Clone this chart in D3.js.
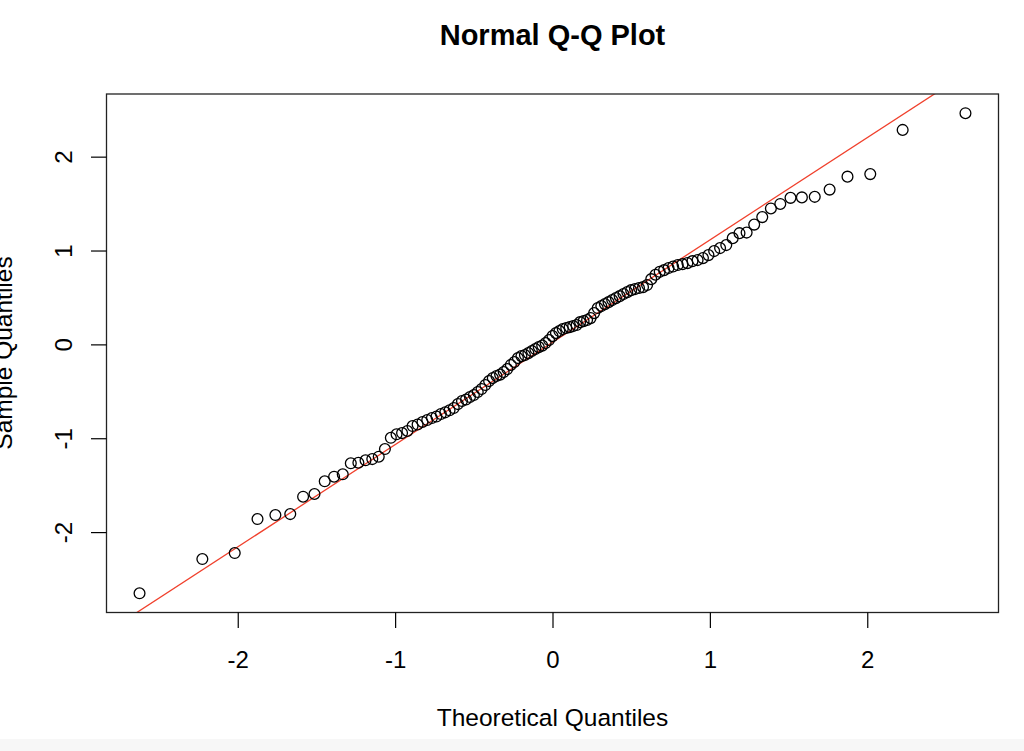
<!DOCTYPE html>
<html>
<head>
<meta charset="utf-8">
<script src="https://cdn.jsdelivr.net/npm/d3@7"></script>
<style>
  html, body { margin: 0; padding: 0; background: #ffffff; }
  svg { display: block; }
  text { font-family: "Liberation Sans", Arial, Helvetica, sans-serif; fill: #000; }
</style>
</head>
<body>
<svg id="chart" width="1024" height="751"></svg>
<script>
// Theoretical normal quantiles (x positions of the points)
const theoretical = [
  -2.6240, -2.2249, -2.0191, -1.8744, -1.7608, -1.6663, -1.5847, -1.5124, -1.4473, -1.3877,
  -1.3328, -1.2816, -1.2335, -1.1881, -1.1451, -1.1041, -1.0648, -1.0272, -0.9909, -0.9559,
  -0.9220, -0.8892, -0.8572, -0.8262, -0.7959, -0.7663, -0.7374, -0.7091, -0.6813, -0.6541,
  -0.6274, -0.6010, -0.5751, -0.5496, -0.5244, -0.4996, -0.4750, -0.4508, -0.4268, -0.4030,
  -0.3795, -0.3561, -0.3330, -0.3101, -0.2873, -0.2646, -0.2421, -0.2197, -0.1975, -0.1753,
  -0.1532, -0.1312, -0.1092, -0.0873, -0.0654, -0.0436, -0.0218, 0.0000, 0.0218, 0.0436,
  0.0654, 0.0873, 0.1092, 0.1312, 0.1532, 0.1753, 0.1975, 0.2197, 0.2421, 0.2646,
  0.2873, 0.3101, 0.3330, 0.3561, 0.3795, 0.4030, 0.4268, 0.4508, 0.4750, 0.4996,
  0.5244, 0.5496, 0.5751, 0.6010, 0.6274, 0.6541, 0.6813, 0.7091, 0.7374, 0.7663,
  0.7959, 0.8262, 0.8572, 0.8892, 0.9220, 0.9559, 0.9909, 1.0272, 1.0648, 1.1041,
  1.1451, 1.1881, 1.2335, 1.2816, 1.3328, 1.3877, 1.4473, 1.5124, 1.5847, 1.6663,
  1.7608, 1.8744, 2.0191, 2.2249, 2.6240
];

// Sorted sample values (y positions of the points)
const sample = [
  -2.652, -2.287, -2.223, -1.861, -1.818, -1.808, -1.623, -1.594, -1.459, -1.410,
  -1.384, -1.267, -1.261, -1.235, -1.222, -1.197, -1.115, -0.995, -0.958, -0.945,
  -0.923, -0.870, -0.854, -0.827, -0.806, -0.785, -0.769, -0.742, -0.724, -0.702,
  -0.678, -0.636, -0.604, -0.588, -0.561, -0.540, -0.508, -0.476, -0.433, -0.391,
  -0.359, -0.337, -0.322, -0.295, -0.263, -0.219, -0.188, -0.146, -0.125, -0.114,
  -0.093, -0.071, -0.050, -0.029, -0.013, 0.014, 0.046, 0.088, 0.120, 0.142,
  0.163, 0.174, 0.184, 0.195, 0.206, 0.237, 0.248, 0.259, 0.280, 0.333,
  0.387, 0.408, 0.429, 0.450, 0.472, 0.493, 0.514, 0.536, 0.557, 0.578,
  0.589, 0.600, 0.610, 0.632, 0.695, 0.742, 0.773, 0.791, 0.813, 0.829,
  0.845, 0.855, 0.866, 0.887, 0.898, 0.919, 0.951, 0.994, 1.026, 1.058,
  1.132, 1.185, 1.191, 1.276, 1.356, 1.448, 1.496, 1.561, 1.566, 1.572,
  1.649, 1.787, 1.814, 2.285, 2.463
];

const xTicks = [-2, -1, 0, 1, 2];
const yTicks = [-2, -1, 0, 1, 2];
const titleText = "Normal Q-Q Plot";
const xLabel = "Theoretical Quantiles";
const yLabel = "Sample Quantiles";

const svg = d3.select("#chart");
const W = 1024, H = 751;
const plot = { left: 106.5, right: 998.5, top: 94, bottom: 612.5 };

// bottom light strip like the screenshot
svg.append("rect").attr("x", 0).attr("y", 739).attr("width", W).attr("height", H - 739).attr("fill", "#f7f7f7");

// R-style 4% extended ranges
function ext(arr) {
  const [a, b] = d3.extent(arr);
  const d = (b - a) * 0.04;
  return [a - d, b + d];
}
const x = d3.scaleLinear().domain(ext(theoretical)).range([plot.left, plot.right]);
const y = d3.scaleLinear().domain(ext(sample)).range([plot.bottom, plot.top]);

// clip path for the line
svg.append("clipPath").attr("id", "clip")
  .append("rect").attr("x", plot.left).attr("y", plot.top)
  .attr("width", plot.right - plot.left).attr("height", plot.bottom - plot.top);

// qqline through the quartiles (R type-7 quantiles)
const q1 = d3.quantile(sample, 0.25), q3 = d3.quantile(sample, 0.75);
const zq = 0.6744897501960817;
const slope = (q3 - q1) / (2 * zq);
const intercept = q1 + slope * zq;
const xd = x.domain();
const lineX = [xd[0] - 1, xd[1] + 1];
svg.append("line")
  .attr("clip-path", "url(#clip)")
  .attr("x1", x(lineX[0])).attr("y1", y(intercept + slope * lineX[0]))
  .attr("x2", x(lineX[1])).attr("y2", y(intercept + slope * lineX[1]))
  .attr("stroke", "#f0402c").attr("stroke-width", 1.3);

// points
svg.append("g").selectAll("circle")
  .data(d3.zip(theoretical, sample))
  .join("circle")
  .attr("cx", d => x(d[0]))
  .attr("cy", d => y(d[1]))
  .attr("r", 5.4)
  .attr("fill", "none")
  .attr("stroke", "#000")
  .attr("stroke-width", 1.3);

// box
svg.append("rect")
  .attr("x", plot.left).attr("y", plot.top)
  .attr("width", plot.right - plot.left).attr("height", plot.bottom - plot.top)
  .attr("fill", "none").attr("stroke", "#222").attr("stroke-width", 1.3);

// x axis
const xAxis = d3.axisBottom(x).tickValues(xTicks).tickSize(15.5).tickPadding(8)
  .tickFormat(d3.format("d"));
const gx = svg.append("g").attr("transform", `translate(0,${plot.bottom})`).call(xAxis);
gx.select(".domain").remove();
gx.selectAll(".tick line").attr("stroke", "#000").attr("stroke-width", 1.2);
gx.selectAll(".tick text").attr("font-size", 24).attr("font-family", "Liberation Sans, Arial, sans-serif")
  .attr("dy", null).attr("y", 55).text(d => d < 0 ? "-" + Math.abs(d) : String(d));

// y axis
const yAxis = d3.axisLeft(y).tickValues(yTicks).tickSize(15.5).tickFormat(d3.format("d"));
const gy = svg.append("g").attr("transform", `translate(${plot.left},0)`).call(yAxis);
gy.select(".domain").remove();
gy.selectAll(".tick line").attr("stroke", "#000").attr("stroke-width", 1.2);
gy.selectAll(".tick text")
  .attr("font-size", 24).attr("font-family", "Liberation Sans, Arial, sans-serif")
  .attr("x", null).attr("dy", null).attr("y", null)
  .attr("text-anchor", "middle")
  .attr("transform", "translate(-34.5,0) rotate(-90)")
  .text(d => d < 0 ? "-" + Math.abs(d) : String(d));

// titles
svg.append("text").attr("x", 552.5).attr("y", 45).attr("text-anchor", "middle")
  .attr("font-size", 29).attr("font-weight", "bold").text(titleText);
svg.append("text").attr("x", 552.5).attr("y", 726).attr("text-anchor", "middle")
  .attr("font-size", 24.5).text(xLabel);
svg.append("text").attr("text-anchor", "middle")
  .attr("transform", "translate(12,353) rotate(-90)")
  .attr("font-size", 24.5).text(yLabel);
</script>
</body>
</html>
